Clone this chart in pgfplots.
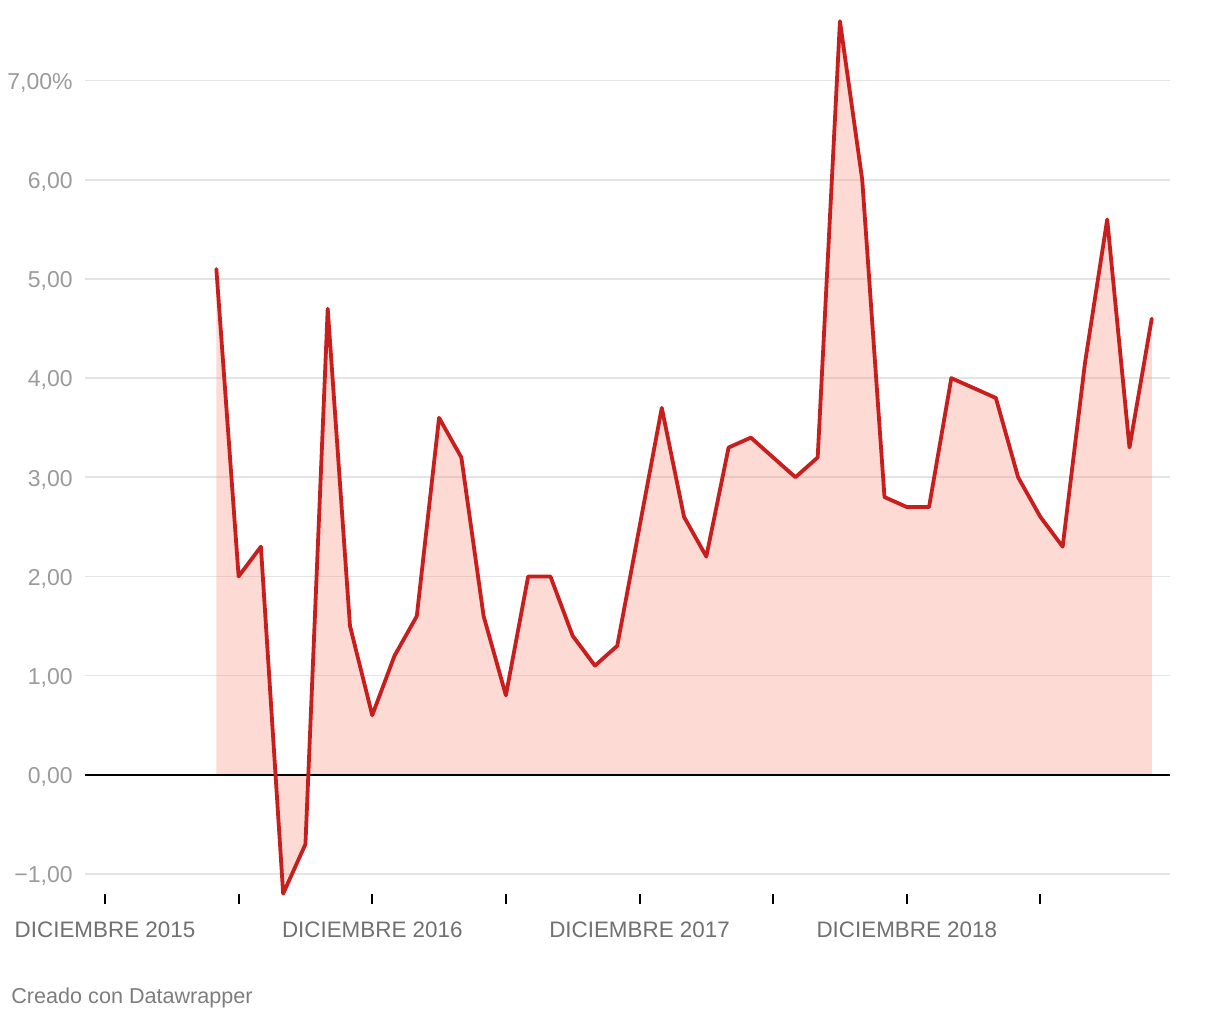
\documentclass[border=0pt]{standalone}
\usepackage{pgfplots}
\usepackage{pgfplotstable}
\pgfplotsset{compat=1.18}
\usepackage{fontspec}
\setmainfont{Liberation Sans}

\definecolor{linered}{RGB}{200,30,29}
\definecolor{fillred}{RGB}{249,149,129}
\definecolor{gridgray}{RGB}{228,228,228}
\definecolor{ylabgray}{RGB}{155,155,155}
\definecolor{xlabgray}{RGB}{112,112,112}
\definecolor{creditgray}{RGB}{125,125,125}

% month index (0 = diciembre 2015), value in %
\pgfplotstableread{
m  v
5  5.1
6  2.0
7  2.3
8  -1.2
9  -0.7
10 4.7
11 1.5
12 0.6
13 1.2
14 1.6
15 3.6
16 3.2
17 1.6
18 0.8
19 2.0
20 2.0
21 1.4
22 1.1
23 1.3
24 2.5
25 3.7
26 2.6
27 2.2
28 3.3
29 3.4
30 3.2
31 3.0
32 3.2
33 7.6
34 6.0
35 2.8
36 2.7
37 2.7
38 4.0
39 3.9
40 3.8
41 3.0
42 2.6
43 2.3
44 4.15
45 5.6
46 3.3
47 4.6
}\datatable

\begin{document}
\begin{tikzpicture}
\path[use as bounding box] (-42.5pt,-63pt) rectangle (567.5pt,447pt);
\begin{axis}[
  scale only axis,
  width=542.5pt, height=437pt,
  xmin=-0.898, xmax=47.82,
  ymin=-1.203, ymax=7.612,
  clip=false,
  axis line style={draw=none},
  tick align=outside,
  major tick length=5pt,
  xtick={0,6,...,42},
  xticklabels={DICIEMBRE 2015,,DICIEMBRE 2016,,DICIEMBRE 2017,,DICIEMBRE 2018,},
  xtick pos=lower,
  x tick style={black, line width=1pt},
  xticklabel style={font=\fontsize{11.2}{13}\selectfont, text=xlabgray,
    anchor=base, inner sep=0pt, yshift=-17pt},
  ytick={-1,0,...,7},
  yticklabels={{−1,00},{0,00},{1,00},{2,00},{3,00},{4,00},{5,00},{6,00},{7,00\%}},
  ytick pos=left,
  y tick style={draw=none},
  yticklabel style={font=\fontsize{11.5}{13}\selectfont, text=ylabgray,
    anchor=east, inner sep=0pt, text depth=0pt, xshift=-1pt, yshift=-0.4pt},
  ymajorgrids,
  grid style={gridgray, line width=0.8pt},
]
\addplot[draw=none, fill=fillred, fill opacity=0.35] table[x=m, y=v] {\datatable} \closedcycle;
\draw[black, line width=1pt] (axis cs:-0.898,0) -- (axis cs:47.82,0);
\addplot[linered, line width=1.9pt, line join=round, line cap=round] table[x=m, y=v] {\datatable};
\end{axis}
\node[anchor=base west, inner sep=0pt, text=creditgray, font=\fontsize{10.8}{13}\selectfont]
  at (-37pt,-55pt) {Creado con Datawrapper};
\end{tikzpicture}
\end{document}
